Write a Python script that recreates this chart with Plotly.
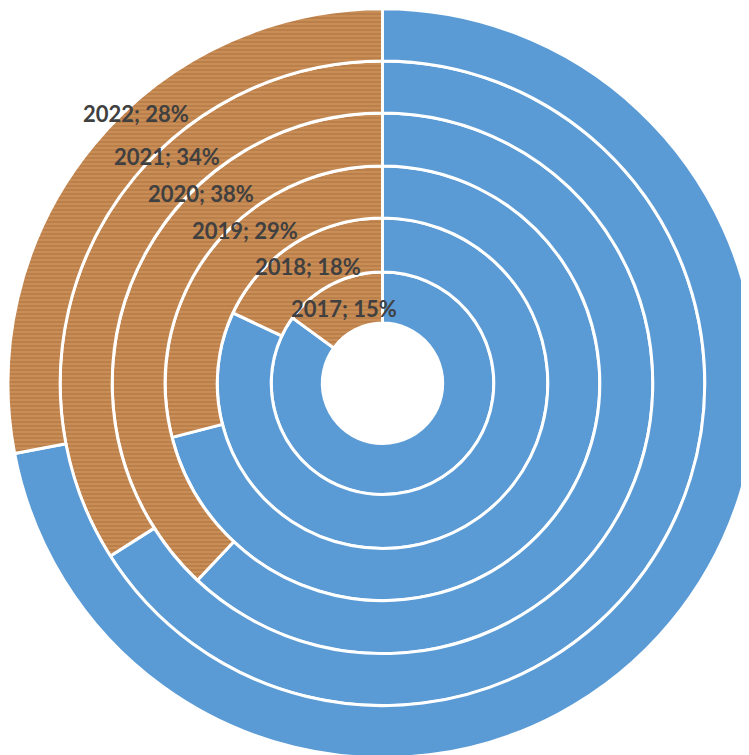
import plotly.graph_objects as go

# ---- data ----
years = ["2017", "2018", "2019", "2020", "2021", "2022"]
shares = [15, 18, 29, 38, 34, 28]          # percent (wood part)
rest = [100 - s for s in shares]            # blue remainder

# ---- layout helpers (pixels, figure coordinates) ----
W, H = 749, 755
OFF = 8                                       # page body margin
cx, cy = 382.5 - OFF, 383.3 - OFF             # centre of rings
bounds = [60.2, 111.3, 165.3, 217.3, 270.3, 322.3, 374.5]  # ring boundary radii
label_pos = [(344, 308), (308, 267), (245, 230), (201, 194), (167, 156), (136, 113)]

BLUE = "#5B9BD5"
WOOD = "#C98D56"
GRAIN = "#A66A38"

fig = go.Figure()
for i, (y, s, r) in enumerate(zip(years, shares, rest)):
    rin, rout = bounds[i], bounds[i + 1]
    fig.add_trace(go.Pie(
        labels=[y + " other", y + " share"],
        values=[r, s],
        sort=False,
        direction="clockwise",
        rotation=0,
        hole=rin / rout,
        domain=dict(x=[max(0, (cx - rout) / W), min(1, (cx + rout) / W)],
                    y=[max(0, (H - cy - rout) / H), min(1, (H - cy + rout) / H)]),
        marker=dict(colors=[BLUE, WOOD],
                    line=dict(color="white", width=3),
                    pattern=dict(shape=["", "-"], fgcolor=[BLUE, GRAIN],
                                 bgcolor=[BLUE, WOOD], size=4, solidity=0.2)),
        textinfo="none",
        hoverinfo="label+percent",
        showlegend=False,
    ))

for (lx, ly), y, s in zip(label_pos, years, shares):
    fig.add_annotation(x=(lx - OFF) / W, y=1 - (ly - OFF) / H, xref="paper", yref="paper",
                       text=f"<b>{y}; {s}%</b>", showarrow=False,
                       font=dict(family="Lato", size=22, color="#404040"),
                       xanchor="center", yanchor="middle")

fig.update_layout(width=W, height=H, margin=dict(l=0, r=0, t=0, b=0),
                  paper_bgcolor="white", plot_bgcolor="white")
fig.write_html("out.html")
